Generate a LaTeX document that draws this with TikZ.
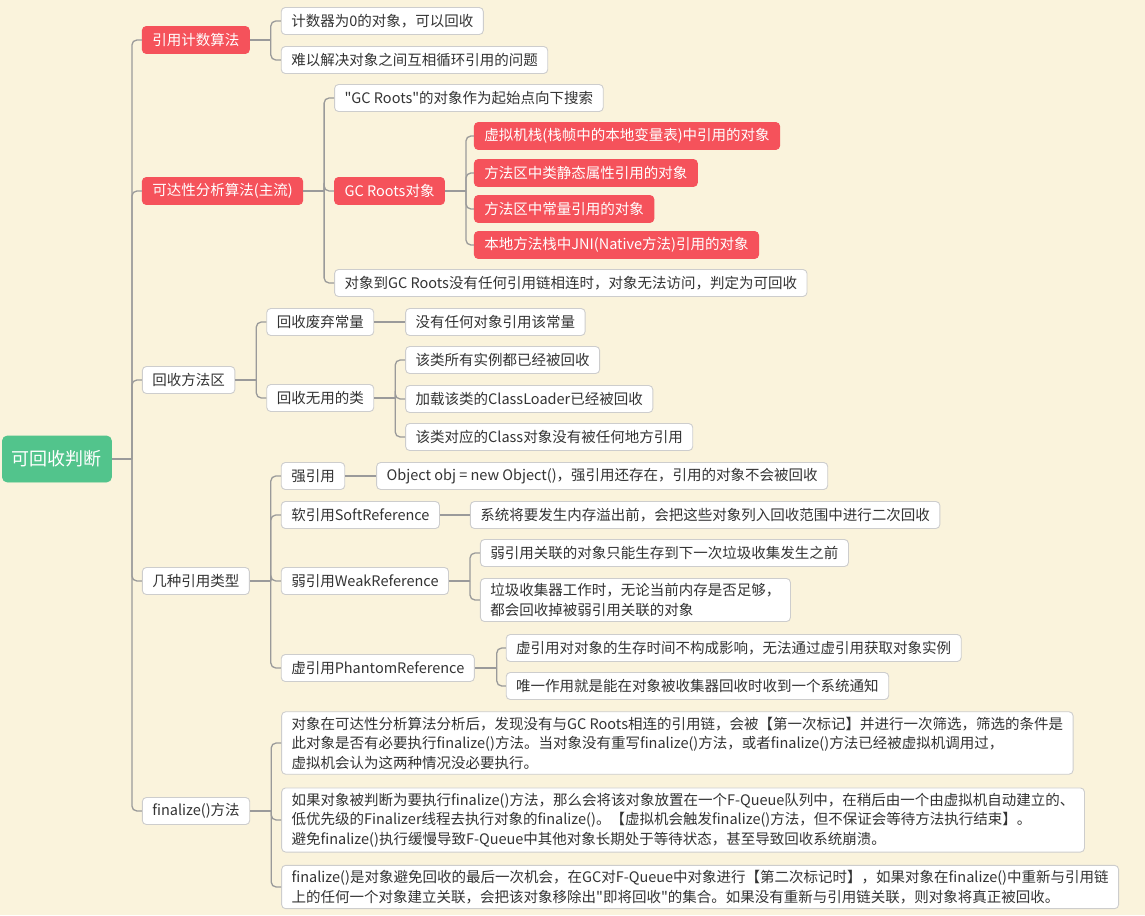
\documentclass[tikz,border=0pt]{standalone}
\usepackage{fontspec}
\setmainfont{Noto Sans CJK SC}
\usetikzlibrary{positioning}
\definecolor{bgcream}{HTML}{FAF3DC}
\definecolor{topicred}{HTML}{F5525B}
\definecolor{rootgreen}{HTML}{52C48C}
\definecolor{linegray}{HTML}{9A9A9A}
\definecolor{boxgray}{HTML}{CDCDCD}
\definecolor{textgray}{HTML}{333333}
\tikzset{
  topic/.style={draw=boxgray, fill=white, text=textgray, rounded corners=4pt,
    line width=0.9pt, anchor=west, inner xsep=10pt, inner ysep=5pt,
    minimum height=27pt, align=left, font=\fontsize{14.5}{19.5}\selectfont},
  hot/.style={topic, draw=topicred, fill=topicred, text=white},
  rootbox/.style={topic, draw=rootgreen, fill=rootgreen, text=white,
    rounded corners=5pt, minimum height=46pt, inner xsep=9.5pt,
    font=\fontsize{18}{22}\selectfont},
  link/.style={draw=linegray, line width=1.3pt, rounded corners=5pt}
}
\begin{document}
\begin{tikzpicture}[x=1pt,y=-1pt]
\fill[bgcream] (0,0) rectangle (1145,915);
\useasboundingbox (0,0) rectangle (1145,915);
% root and main branches
\node[rootbox] (root) at (2,459) {可回收判断};
\coordinate (root-s) at ([xshift=20pt]root.east);
\foreach \n/\y/\t in {rc/40/{引用计数算法}, ra/191/{可达性分析算法(主流)}}
  \node[hot] (\n) at (root-s |- 0,\y) [xshift=10pt] {\t};
\foreach \n/\y/\t in {rm/380/{回收方法区}, rt/581/{几种引用类型}, rf/811/{finalize()方法}}
  \node[topic] (\n) at (root-s |- 0,\y) [xshift=10pt] {\t};
\draw[link] (root.east) -- (root-s);
\foreach \n in {rc,ra,rm,rt,rf}
  \draw[link] (root-s) |- (\n.west);
% reference counting
\coordinate (rc-s) at ([xshift=21pt]rc.east);
\foreach \n/\y/\t in {rc1/21/{计数器为0的对象，可以回收}, rc2/60/{难以解决对象之间互相循环引用的问题}}
  \node[topic] (\n) at (rc-s |- 0,\y) [xshift=10pt] {\t};
\draw[link] (rc.east) -- (rc-s);
\foreach \n in {rc1,rc2}
  \draw[link] (rc-s) |- (\n.west);
% reachability analysis
\coordinate (ra-s) at ([xshift=21pt]ra.east);
\node[topic] (ra1) at (ra-s |- 0,98) [xshift=10pt] {\textquotedbl GC Roots\textquotedbl 的对象作为起始点向下搜索};
\node[hot] (gc) at (ra-s |- 0,191) [xshift=10pt] {GC Roots对象};
\node[topic] (ra3) at (ra-s |- 0,283) [xshift=10pt] {对象到GC Roots没有任何引用链相连时，对象无法访问，判定为可回收};
\draw[link] (ra.east) -- (ra-s);
\foreach \n in {ra1,gc,ra3}
  \draw[link] (ra-s) |- (\n.west);
\coordinate (gc-s) at ([xshift=21pt]gc.east);
\foreach \n/\y/\t in {gc1/136/{虚拟机栈(栈帧中的本地变量表)中引用的对象},
    gc2/173/{方法区中类静态属性引用的对象}, gc3/209/{方法区中常量引用的对象},
    gc4/245/{本地方法栈中JNI(Native方法)引用的对象}}
  \node[hot] (\n) at (gc-s |- 0,\y) [xshift=8pt] {\t};
\draw[link] (gc.east) -- (gc-s);
\foreach \n in {gc1,gc2,gc3,gc4}
  \draw[link] (gc-s) |- (\n.west);
% method area
\coordinate (rm-s) at ([xshift=21pt]rm.east);
\node[topic] (rm1) at (rm-s |- 0,322) [xshift=10pt] {回收废弃常量};
\node[topic] (rm2) at (rm-s |- 0,398) [xshift=10pt] {回收无用的类};
\draw[link] (rm.east) -- (rm-s);
\foreach \n in {rm1,rm2}
  \draw[link] (rm-s) |- (\n.west);
\node[topic, right=31pt of rm1] (rm1a) {没有任何对象引用该常量};
\draw[link] (rm1.east) -- (rm1a.west);
\coordinate (rm2-s) at ([xshift=21pt]rm2.east);
\foreach \n/\y/\t in {rm2a/360/{该类所有实例都已经被回收}, rm2b/399/{加载该类的ClassLoader已经被回收},
    rm2c/437/{该类对应的Class对象没有被任何地方引用}}
  \node[topic] (\n) at (rm2-s |- 0,\y) [xshift=10pt] {\t};
\draw[link] (rm2.east) -- (rm2-s);
\foreach \n in {rm2a,rm2b,rm2c}
  \draw[link] (rm2-s) |- (\n.west);
% reference types
\coordinate (rt-s) at ([xshift=21pt]rt.east);
\foreach \n/\y/\t in {st1/476/{强引用}, st2/515/{软引用SoftReference},
    st3/581/{弱引用WeakReference}, st4/668/{虚引用PhantomReference}}
  \node[topic] (\n) at (rt-s |- 0,\y) [xshift=10pt] {\t};
\draw[link] (rt.east) -- (rt-s);
\foreach \n in {st1,st2,st3,st4}
  \draw[link] (rt-s) |- (\n.west);
\node[topic, right=31pt of st1] (st1a) {Object obj = new Object()，强引用还存在，引用的对象不会被回收};
\node[topic, right=30pt of st2] (st2a) {系统将要发生内存溢出前，会把这些对象列入回收范围中进行二次回收};
\draw[link] (st1.east) -- (st1a.west);
\draw[link] (st2.east) -- (st2a.west);
\coordinate (st3-s) at ([xshift=21pt]st3.east);
\node[topic] (st3a) at (st3-s |- 0,553) [xshift=10pt] {弱引用关联的对象只能生存到下一次垃圾收集发生之前};
\node[topic] (st3b) at (st3-s |- 0,600) [xshift=10pt] {垃圾收集器工作时，无论当前内存是否足够，\\都会回收掉被弱引用关联的对象};
\draw[link] (st3.east) -- (st3-s);
\foreach \n in {st3a,st3b}
  \draw[link] (st3-s) |- (\n.west);
\coordinate (st4-s) at ([xshift=22pt]st4.east);
\node[topic] (st4a) at (st4-s |- 0,648) [xshift=9pt] {虚引用对对象的生存时间不构成影响，无法通过虚引用获取对象实例};
\node[topic] (st4b) at (st4-s |- 0,686) [xshift=9pt] {唯一作用就是能在对象被收集器回收时收到一个系统通知};
\draw[link] (st4.east) -- (st4-s);
\foreach \n in {st4a,st4b}
  \draw[link] (st4-s) |- (\n.west);
% finalize
\coordinate (rf-s) at ([xshift=21pt]rf.east);
\node[topic] (rf1) at (rf-s |- 0,743) [xshift=10pt] {对象在可达性分析算法分析后，发现没有与GC Roots相连的引用链，会被【第一次标记】并进行一次筛选，筛选的条件是\\此对象是否有必要执行finalize()方法。当对象没有重写finalize()方法，或者finalize()方法已经被虚拟机调用过，\\虚拟机会认为这两种情况没必要执行。};
\node[topic] (rf2) at (rf-s |- 0,820) [xshift=10pt] {如果对象被判断为要执行finalize()方法，那么会将该对象放置在一个F-Queue队列中，在稍后由一个由虚拟机自动建立的、\\低优先级的Finalizer线程去执行对象的finalize()。【虚拟机会触发finalize()方法，但不保证会等待方法执行结束】。\\避免finalize()执行缓慢导致F-Queue中其他对象长期处于等待状态，甚至导致回收系统崩溃。};
\node[topic] (rf3) at (rf-s |- 0,887) [xshift=10pt] {finalize()是对象避免回收的最后一次机会，在GC对F-Queue中对象进行【第二次标记时】，如果对象在finalize()中重新与引用链\\上的任何一个对象建立关联，会把该对象移除出\textquotedbl 即将回收\textquotedbl 的集合。如果没有重新与引用链关联，则对象将真正被回收。};
\draw[link] (rf.east) -- (rf-s);
\foreach \n in {rf1,rf2,rf3}
  \draw[link] (rf-s) |- (\n.west);
\end{tikzpicture}
\end{document}
